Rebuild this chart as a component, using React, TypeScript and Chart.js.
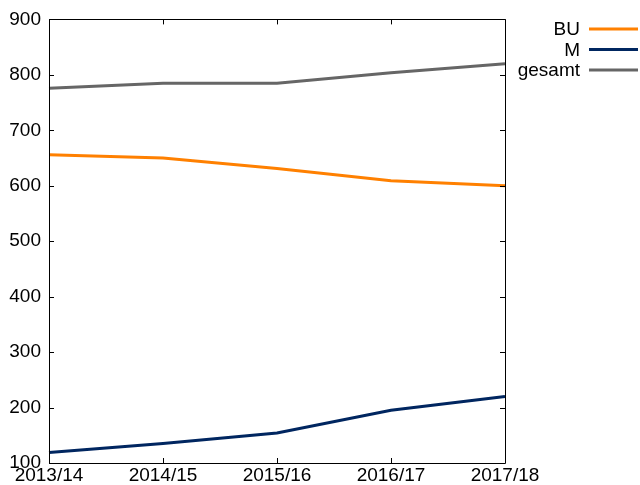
import React, { useEffect, useRef } from "react";
import { Chart, registerables } from "chart.js";

Chart.register(...registerables);

const categories = ["2013/14", "2014/15", "2015/16", "2016/17", "2017/18"];
const buValues = [656, 650, 631, 609, 600];
const mValues = [119, 135, 154, 195, 220];
const gesamtValues = [776, 785, 785, 804, 820];
const seriesNames = ["BU", "M", "gesamt"];
const seriesColors = ["#ff8000", "#002660", "#666666"];

const FONT = "'Liberation Sans', Arial, Helvetica, sans-serif";

const frameAndLegend = {
  id: "frameAndLegend",
  afterDraw(chart: any) {
    const ctx = chart.ctx;
    const { left, right, top, bottom } = chart.chartArea;
    const xs = chart.scales.x;
    const ys = chart.scales.y;
    ctx.save();
    ctx.strokeStyle = "#000";
    ctx.lineWidth = 1;
    ctx.beginPath();
    ctx.rect(Math.round(left) + 0.5, Math.round(top) + 0.5, Math.round(right - left), Math.round(bottom - top));
    ctx.stroke();
    const tl = 5;
    ctx.beginPath();
    ys.ticks.forEach((t: any) => {
      const y = Math.round(ys.getPixelForValue(t.value)) + 0.5;
      ctx.moveTo(left, y);
      ctx.lineTo(left + tl, y);
      ctx.moveTo(right, y);
      ctx.lineTo(right - tl, y);
    });
    xs.ticks.forEach((_t: any, i: number) => {
      const x = Math.round(xs.getPixelForTick(i)) + 0.5;
      ctx.moveTo(x, bottom);
      ctx.lineTo(x, bottom - tl);
      ctx.moveTo(x, top);
      ctx.lineTo(x, top + tl);
    });
    ctx.stroke();

    // legend
    ctx.font = `19px ${FONT}`;
    ctx.textAlign = "right";
    ctx.textBaseline = "middle";
    chart.data.datasets.forEach((ds: any, i: number) => {
      const y = 29 + i * 20.5;
      ctx.fillStyle = "#000";
      ctx.fillText(ds.label, 580, y + 1);
      ctx.strokeStyle = ds.borderColor;
      ctx.lineWidth = 3;
      ctx.beginPath();
      ctx.moveTo(589, y);
      ctx.lineTo(638, y);
      ctx.stroke();
    });
    ctx.restore();
  },
};

export default function App() {
  const ref = useRef<HTMLCanvasElement>(null);
  useEffect(() => {
    if (!ref.current) return;
    const values = [buValues, mValues, gesamtValues];
    const chart = new Chart(ref.current, {
      type: "line",
      data: {
        labels: categories,
        datasets: seriesNames.map((name, i) => ({
          label: name,
          data: values[i],
          borderColor: seriesColors[i],
          backgroundColor: seriesColors[i],
          borderWidth: 3,
          pointRadius: 0,
          tension: 0,
          fill: false,
        })),
      },
      options: {
        animation: false,
        responsive: false,
        maintainAspectRatio: false,
        layout: { padding: { top: 18, right: 135, left: 0, bottom: 0 } },
        plugins: { legend: { display: false }, tooltip: { enabled: false } },
        scales: {
          x: {
            offset: false,
            grid: { display: false, drawTicks: false },
            border: { display: false },
            ticks: { color: "#000", font: { family: FONT, size: 19 }, padding: 1, maxRotation: 0, autoSkip: false },
            afterFit: (s: any) => { s.height = 22; },
          },
          y: {
            min: 100,
            max: 900,
            grid: { display: false, drawTicks: false },
            border: { display: false },
            ticks: { stepSize: 100, color: "#000", font: { family: FONT, size: 19 }, padding: 8 },
            afterFit: (s: any) => { s.width = 49; },
          },
        },
      },
      plugins: [frameAndLegend],
    });
    return () => chart.destroy();
  }, []);
  return (
    <div style={{ position: "fixed", left: 0, top: 0, width: 640, height: 485, background: "#fff" }}>
      <canvas ref={ref} width={640} height={485} style={{ width: 640, height: 485 }} />
    </div>
  );
}
